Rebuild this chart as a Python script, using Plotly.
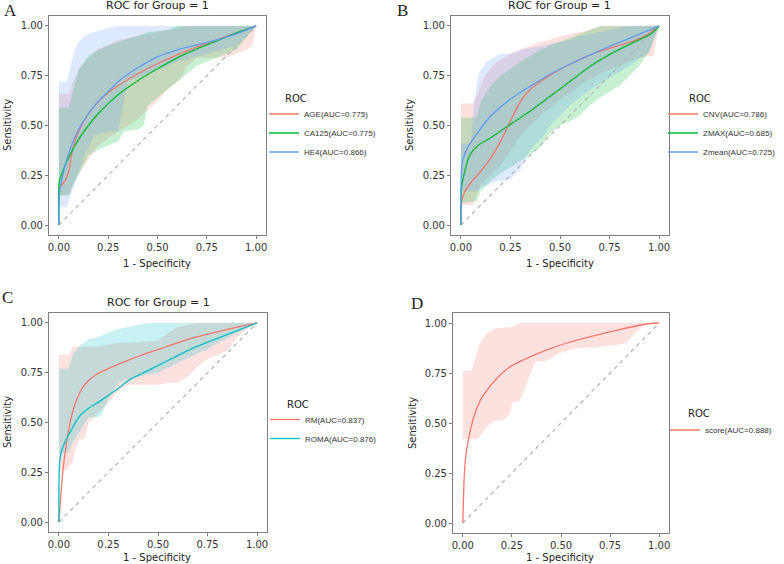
import plotly.graph_objects as go

# ---- panel A: AGE / CA125 / HE4 ----
a_age_x = [0, 0.005, 0.03, 0.05, 0.07, 0.1, 0.15, 0.2, 0.25, 0.3, 0.4, 0.5, 0.6, 0.7, 0.8, 0.9, 1.0]
a_age_y = [0, 0.19, 0.22, 0.27, 0.38, 0.47, 0.56, 0.62, 0.665, 0.70, 0.76, 0.81, 0.855, 0.895, 0.93, 0.965, 1.0]
a_ca_x = [0, 0.002, 0.02, 0.05, 0.1, 0.15, 0.2, 0.25, 0.3, 0.4, 0.5, 0.6, 0.7, 0.8, 0.9, 1.0]
a_ca_y = [0, 0.22, 0.27, 0.34, 0.43, 0.50, 0.56, 0.61, 0.655, 0.725, 0.785, 0.84, 0.885, 0.925, 0.965, 1.0]
a_he_x = [0, 0.005, 0.02, 0.05, 0.1, 0.15, 0.2, 0.25, 0.3, 0.4, 0.5, 0.6, 0.7, 0.8, 0.9, 1.0]
a_he_y = [0, 0.18, 0.25, 0.36, 0.48, 0.56, 0.62, 0.67, 0.72, 0.79, 0.845, 0.88, 0.905, 0.93, 0.96, 1.0]

a_age_bx = [0, 0.05, 0.07, 0.1, 0.15, 0.2, 0.3, 0.4, 0.44, 0.5, 0.55, 0.62, 0.65, 0.7, 0.85, 0.95, 0.98, 1.0]
a_age_hi = [0.66, 0.66, 0.72, 0.78, 0.84, 0.88, 0.93, 0.95, 0.96, 0.97, 0.98, 0.99, 1.0, 1.0, 1.0, 1.0, 1.0, 1.0]
a_age_lo = [0.15, 0.15, 0.2, 0.26, 0.33, 0.4, 0.47, 0.53, 0.57, 0.62, 0.68, 0.74, 0.8, 0.84, 0.84, 0.88, 0.9, 1.0]
a_ca_bx = [0, 0.05, 0.08, 0.1, 0.15, 0.2, 0.25, 0.3, 0.33, 0.4, 0.43, 0.45, 0.55, 0.6, 0.65, 0.7, 0.85, 0.9, 1.0]
a_ca_hi = [0.59, 0.59, 0.7, 0.78, 0.85, 0.88, 0.9, 0.92, 0.93, 0.95, 0.96, 0.97, 0.98, 1.0, 1.0, 1.0, 1.0, 1.0, 1.0]
a_ca_lo = [0.15, 0.15, 0.22, 0.25, 0.35, 0.38, 0.4, 0.42, 0.47, 0.48, 0.5, 0.6, 0.68, 0.72, 0.76, 0.8, 0.86, 0.88, 1.0]
a_he_bx = [0, 0.04, 0.06, 0.08, 0.1, 0.13, 0.18, 0.25, 0.3, 0.35, 0.45, 0.6, 0.75, 0.9, 1.0]
a_he_hi = [0.72, 0.72, 0.80, 0.88, 0.92, 0.95, 0.97, 0.99, 1.0, 1.0, 1.0, 1.0, 1.0, 1.0, 1.0]
a_he_lo = [0.09, 0.09, 0.15, 0.20, 0.27, 0.35, 0.45, 0.47, 0.47, 0.72, 0.76, 0.82, 0.86, 0.9, 1.0]

# ---- panel B: CNV / ZMAX / Zmean ----
b_cnv_x = [0, 0.002, 0.018, 0.052, 0.1, 0.153, 0.2, 0.253, 0.304, 0.354, 0.455, 0.555, 0.656, 0.757, 0.857, 0.92, 1.0]
b_cnv_y = [0, 0.11, 0.165, 0.215, 0.27, 0.34, 0.42, 0.53, 0.626, 0.685, 0.755, 0.81, 0.856, 0.89, 0.92, 0.945, 1.0]
b_zmax_x = [0, 0.002, 0.018, 0.044, 0.086, 0.153, 0.253, 0.354, 0.455, 0.555, 0.656, 0.757, 0.857, 0.958, 1.0]
b_zmax_y = [0, 0.18, 0.265, 0.35, 0.40, 0.44, 0.508, 0.575, 0.65, 0.725, 0.80, 0.86, 0.91, 0.96, 1.0]
b_zmean_x = [0, 0.002, 0.01, 0.035, 0.086, 0.153, 0.253, 0.354, 0.455, 0.555, 0.656, 0.757, 0.857, 1.0]
b_zmean_y = [0, 0.265, 0.33, 0.39, 0.466, 0.55, 0.634, 0.70, 0.76, 0.81, 0.856, 0.90, 0.94, 1.0]

b_cnv_bx = [0, 0.06, 0.08, 0.1, 0.12, 0.18, 0.2, 0.25, 0.3, 0.35, 0.4, 0.45, 0.5, 0.55, 0.6, 0.65, 0.72, 0.8, 0.9, 0.97, 1.0]
b_cnv_hi = [0.61, 0.61, 0.65, 0.7, 0.75, 0.82, 0.83, 0.86, 0.88, 0.9, 0.92, 0.93, 0.95, 0.96, 0.97, 0.98, 1.0, 1.0, 1.0, 1.0, 1.0]
b_cnv_lo = [0.1, 0.1, 0.15, 0.2, 0.22, 0.28, 0.3, 0.37, 0.45, 0.5, 0.55, 0.59, 0.63, 0.66, 0.7, 0.73, 0.77, 0.8, 0.84, 0.85, 1.0]
b_zmax_bx = [0, 0.08, 0.1, 0.15, 0.2, 0.3, 0.4, 0.45, 0.5, 0.55, 0.6, 0.65, 0.7, 0.75, 0.8, 0.85, 0.9, 0.95, 1.0]
b_zmax_hi = [0.54, 0.54, 0.62, 0.7, 0.75, 0.82, 0.88, 0.9, 0.92, 0.94, 0.96, 0.98, 1.0, 1.0, 1.0, 1.0, 1.0, 1.0, 1.0]
b_zmax_lo = [0.11, 0.12, 0.17, 0.22, 0.26, 0.32, 0.39, 0.46, 0.5, 0.52, 0.55, 0.6, 0.64, 0.67, 0.7, 0.75, 0.8, 0.87, 1.0]
b_zmean_bx = [0, 0.05, 0.065, 0.085, 0.1, 0.13, 0.18, 0.2, 0.25, 0.3, 0.35, 0.42, 0.45, 0.5, 0.55, 0.6, 0.65, 0.75, 0.8, 0.85, 0.95, 1.0]
b_zmean_hi = [0.41, 0.41, 0.6, 0.74, 0.78, 0.82, 0.85, 0.86, 0.86, 0.88, 0.89, 0.9, 0.91, 0.92, 0.93, 0.95, 0.96, 0.98, 0.99, 1.0, 1.0, 1.0]
b_zmean_lo = [0.17, 0.17, 0.17, 0.17, 0.19, 0.2, 0.22, 0.22, 0.23, 0.28, 0.38, 0.45, 0.5, 0.55, 0.6, 0.64, 0.68, 0.74, 0.77, 0.8, 0.87, 1.0]

# ---- panel C: RM / ROMA ----
c_rm_x = [0, 0.0185, 0.035, 0.052, 0.077, 0.103, 0.136, 0.187, 0.254, 0.355, 0.456, 0.557, 0.658, 0.76, 0.86, 1.0]
c_rm_y = [0, 0.24, 0.377, 0.478, 0.58, 0.646, 0.697, 0.74, 0.773, 0.815, 0.852, 0.886, 0.92, 0.946, 0.97, 1.0]
c_roma_x = [0, 0.002, 0.01, 0.027, 0.052, 0.103, 0.155, 0.204, 0.288, 0.355, 0.456, 0.557, 0.658, 0.76, 0.86, 1.0]
c_roma_y = [0, 0.276, 0.343, 0.394, 0.444, 0.53, 0.575, 0.605, 0.663, 0.714, 0.764, 0.815, 0.865, 0.907, 0.946, 1.0]

c_rm_bx = [0, 0.04, 0.05, 0.07, 0.08, 0.1, 0.13, 0.15, 0.2, 0.25, 0.3, 0.35, 0.5, 0.55, 0.6, 0.65, 0.7, 0.75, 0.8, 0.85, 0.9, 0.95, 1.0]
c_rm_hi = [0.84, 0.84, 0.84, 0.88, 0.88, 0.88, 0.88, 0.88, 0.88, 0.89, 0.9, 0.9, 0.91, 0.95, 0.98, 0.99, 1.0, 1.0, 1.0, 1.0, 1.0, 1.0, 1.0]
c_rm_lo = [0.26, 0.26, 0.28, 0.3, 0.35, 0.41, 0.42, 0.5, 0.55, 0.6, 0.66, 0.69, 0.69, 0.7, 0.7, 0.73, 0.78, 0.82, 0.84, 0.86, 0.93, 0.97, 1.0]
c_roma_bx = [0, 0.05, 0.07, 0.1, 0.15, 0.2, 0.22, 0.25, 0.3, 0.35, 0.45, 0.5, 0.6, 0.75, 0.9, 1.0]
c_roma_hi = [0.77, 0.77, 0.84, 0.88, 0.92, 0.93, 0.94, 0.95, 0.97, 0.98, 1.0, 1.0, 1.0, 1.0, 1.0, 1.0]
c_roma_lo = [0.34, 0.35, 0.4, 0.45, 0.525, 0.525, 0.55, 0.62, 0.7, 0.72, 0.74, 0.75, 0.8, 0.87, 0.95, 1.0]

# ---- panel D: score ----
d_score_x = [0, 0.0067, 0.015, 0.032, 0.057, 0.091, 0.125, 0.175, 0.243, 0.327, 0.428, 0.53, 0.63, 0.732, 0.833, 0.934, 1.0]
d_score_y = [0, 0.219, 0.335, 0.434, 0.534, 0.617, 0.667, 0.725, 0.783, 0.824, 0.866, 0.9, 0.927, 0.952, 0.975, 0.995, 1.0]

d_score_bx = [0, 0.044, 0.074, 0.083, 0.1, 0.125, 0.159, 0.21, 0.243, 0.25, 0.29, 0.293, 0.319, 0.369, 0.42, 0.496, 0.58, 0.664, 0.78, 0.833, 0.884, 0.934, 1.0]
d_score_hi = [0.76, 0.76, 0.86, 0.89, 0.92, 0.95, 0.973, 0.975, 0.98, 0.98, 1.0, 1.0, 1.0, 1.0, 1.0, 1.0, 1.0, 1.0, 1.0, 1.0, 1.0, 1.0, 1.0]
d_score_lo = [0.42, 0.42, 0.42, 0.43, 0.45, 0.484, 0.51, 0.515, 0.55, 0.6, 0.61, 0.614, 0.683, 0.808, 0.808, 0.85, 0.874, 0.877, 0.89, 0.9, 0.957, 0.995, 1.0]

RED, GREEN, BLUE, CYAN = "#F8766D", "#00BA38", "#619CFF", "#00BFC4"


def rgba(hexc, a):
    h = hexc.lstrip("#")
    return f"rgba({int(h[0:2], 16)},{int(h[2:4], 16)},{int(h[4:6], 16)},{a})"


fig = go.Figure()

panels = [
    ("x", "y", "legend", [
        ("AGE(AUC=0.775)", RED, a_age_x, a_age_y, a_age_bx, a_age_hi, a_age_lo),
        ("CA125(AUC=0.775)", GREEN, a_ca_x, a_ca_y, a_ca_bx, a_ca_hi, a_ca_lo),
        ("HE4(AUC=0.866)", BLUE, a_he_x, a_he_y, a_he_bx, a_he_hi, a_he_lo)]),
    ("x2", "y2", "legend2", [
        ("CNV(AUC=0.786)", RED, b_cnv_x, b_cnv_y, b_cnv_bx, b_cnv_hi, b_cnv_lo),
        ("ZMAX(AUC=0.685)", GREEN, b_zmax_x, b_zmax_y, b_zmax_bx, b_zmax_hi, b_zmax_lo),
        ("Zmean(AUC=0.725)", BLUE, b_zmean_x, b_zmean_y, b_zmean_bx, b_zmean_hi, b_zmean_lo)]),
    ("x3", "y3", "legend3", [
        ("RM(AUC=0.837)", RED, c_rm_x, c_rm_y, c_rm_bx, c_rm_hi, c_rm_lo),
        ("ROMA(AUC=0.876)", CYAN, c_roma_x, c_roma_y, c_roma_bx, c_roma_hi, c_roma_lo)]),
    ("x4", "y4", "legend4", [
        ("score(AUC=0.888)", RED, d_score_x, d_score_y, d_score_bx, d_score_hi, d_score_lo)]),
]

for xa, ya, lg, series in panels:
    # confidence ribbons
    for name, col, cx, cy, bx, hi, lo in series:
        fig.add_trace(go.Scatter(
            x=bx + bx[::-1], y=hi + lo[::-1], fill="toself",
            fillcolor=rgba(col, 0.22), line=dict(width=0),
            mode="lines", showlegend=False, hoverinfo="skip",
            xaxis=xa, yaxis=ya))
    # chance line
    fig.add_trace(go.Scatter(
        x=[0, 1], y=[0, 1], mode="lines",
        line=dict(color="#b3b3b3", width=1.2, dash="4px,4px"),
        showlegend=False, xaxis=xa, yaxis=ya))
    # ROC curves
    for name, col, cx, cy, bx, hi, lo in series:
        fig.add_trace(go.Scatter(
            x=cx, y=cy, mode="lines", name=name,
            line=dict(color=col, width=1.3, shape="spline", smoothing=0.6),
            legend=lg, xaxis=xa, yaxis=ya))

W, H = 784, 564
frames = {
    "": (49, 266, 16, 235),
    "2": (451, 669, 16, 235),
    "3": (49, 267, 313, 532),
    "4": (453, 669, 313, 533),
}

ax_common = dict(range=[-0.05, 1.05], showgrid=False, zeroline=False, automargin=False,
                 showline=True, mirror=True, linecolor="#7f7f7f", linewidth=1.2,
                 ticks="outside", ticklen=3, tickcolor="#7f7f7f",
                 tickvals=[0, 0.25, 0.5, 0.75, 1.0],
                 ticktext=["0.00", "0.25", "0.50", "0.75", "1.00"],
                 tickfont=dict(size=10, color="#333333", family="DejaVu Sans"))

layout = dict(width=W, height=H, margin=dict(l=0, r=0, t=0, b=0, autoexpand=False),
              paper_bgcolor="white", plot_bgcolor="white",
              font=dict(family="DejaVu Sans", color="#222222"))

for k, (x0, x1, y0, y1) in frames.items():
    layout["xaxis" + k] = dict(ax_common, domain=[x0 / W, x1 / W], anchor="y" + k)
    layout["yaxis" + k] = dict(ax_common, domain=[1 - y1 / H, 1 - y0 / H], anchor="x" + k)

# legends: (text start x, centre y of the items)
leg_pos = {"legend": (304, 133), "legend2": (703, 133), "legend3": (305, 429), "legend4": (705, 430)}
for lg, (lx, ly) in leg_pos.items():
    layout[lg] = dict(x=(lx - 40) / W, y=1 - ly / H, xanchor="left", yanchor="middle",
                      font=dict(size=8, color="#333333", family="Liberation Sans"),
                      bgcolor="rgba(0,0,0,0)", tracegroupgap=0)

fig.update_layout(**layout)


def note(text, x, y, size, **kw):
    fig.add_annotation(x=x / W, y=1 - y / H, xref="paper", yref="paper",
                       text=text, showarrow=False, xanchor=kw.pop("xanchor", "center"),
                       yanchor="middle", font=dict(size=size, color=kw.pop("color", "#222222"),
                                                   family=kw.pop("family", "DejaVu Sans")), **kw)


# panel titles
for cx, ty in [(157, 6), (559, 6), (158, 302)]:
    note("ROC for Group = 1", cx, ty, 11)
# axis titles
for cx, ty in [(157, 263), (560, 263), (157, 557), (560, 557)]:
    note("1 - Specificity", cx, ty, 10)
for cx, ty in [(8, 125), (410, 125), (7, 422), (412, 423)]:
    note("Sensitivity", cx, ty, 10, textangle=-90)
# legend titles
for lx, ly in [(283, 99), (687, 99), (285, 404), (686, 413)]:
    note("ROC", lx, ly, 10, xanchor="left")
# panel letters
for letter, lx, ly in [("A", 10, 11), ("B", 402, 11), ("C", 8, 297), ("D", 417, 303)]:
    note(letter, lx, ly, 17, family="Liberation Serif")

# the page's default body margin would push the 784x564 figure 8px down and right
fig.write_html("out.html", config={"displayModeBar": False},
               post_script="document.body.style.margin='0px';")
